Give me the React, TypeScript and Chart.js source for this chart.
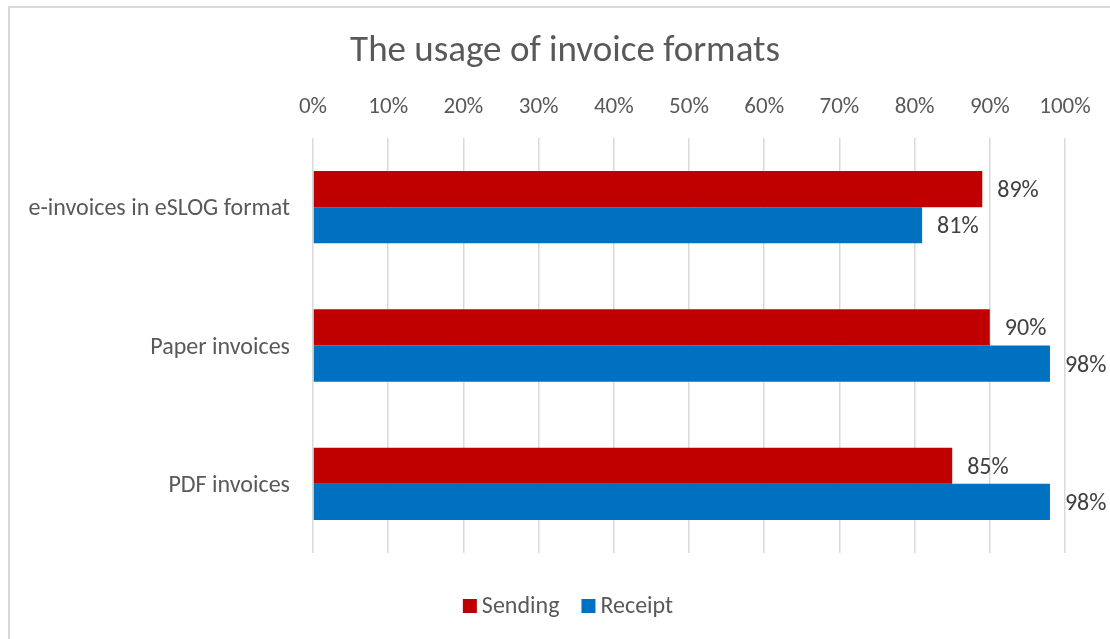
import React, { useEffect, useRef } from "react";
import { Chart, registerables } from "chart.js";

Chart.register(...registerables);

const TITLE = "The usage of invoice formats";
const categories = ["e-invoices in eSLOG format", "Paper invoices", "PDF invoices"];
const seriesNames = ["Sending", "Receipt"];
const sending = [89, 90, 85];
const receipt = [81, 98, 98];
const seriesColors = ["#C00000", "#0070C0"];
const FONT = "Carlito, Lato, sans-serif";

const dataLabels = {
  id: "dataLabels",
  afterDatasetsDraw(chart: any) {
    const ctx = chart.ctx;
    ctx.save();
    ctx.font = `24px ${FONT}`;
    ctx.fillStyle = "#404040";
    ctx.textAlign = "left";
    ctx.textBaseline = "middle";
    chart.data.datasets.forEach((ds: any, i: number) => {
      const meta = chart.getDatasetMeta(i);
      meta.data.forEach((bar: any, j: number) => {
        ctx.fillText(`${ds.data[j]}%`, bar.x + 15, bar.y + 2);
      });
    });
    ctx.restore();
  },
};

const chartTitle = {
  id: "chartTitle",
  afterDraw(chart: any) {
    const ctx = chart.ctx;
    ctx.save();
    ctx.font = `37px ${FONT}`;
    ctx.fillStyle = "#595959";
    ctx.textAlign = "center";
    ctx.textBaseline = "middle";
    ctx.fillText(TITLE, 565, 52);
    ctx.restore();
  },
};

const bottomLegend = {
  id: "bottomLegend",
  afterDraw(chart: any) {
    const ctx = chart.ctx;
    ctx.save();
    ctx.font = `24px ${FONT}`;
    const box = 14;
    const gapBoxText = 5;
    const gapItems = 22;
    const items = chart.data.datasets.map((ds: any) => ({
      text: ds.label,
      color: ds.backgroundColor,
      w: box + gapBoxText + ctx.measureText(ds.label).width,
    }));
    const total = items.reduce((s: number, it: any) => s + it.w, 0) + gapItems * (items.length - 1);
    let x = 568 - total / 2;
    const y = 606;
    ctx.textBaseline = "middle";
    ctx.textAlign = "left";
    items.forEach((it: any) => {
      ctx.fillStyle = it.color;
      ctx.fillRect(x, y - box / 2, box, box);
      ctx.fillStyle = "#595959";
      ctx.fillText(it.text, x + box + gapBoxText, y + 1);
      x += it.w + gapItems;
    });
    ctx.restore();
  },
};

export default function App() {
  const ref = useRef<HTMLCanvasElement>(null);
  useEffect(() => {
    if (!ref.current) return;
    const chart = new Chart(ref.current, {
      type: "bar",
      data: {
        labels: categories,
        datasets: [
          { label: seriesNames[0], data: sending, backgroundColor: seriesColors[0] },
          { label: seriesNames[1], data: receipt, backgroundColor: seriesColors[1] },
        ],
      },
      options: {
        indexAxis: "y",
        responsive: false,
        animation: false,
        maintainAspectRatio: false,
        layout: { padding: { left: 0, right: 45, top: 0, bottom: 86 } },
        datasets: { bar: { categoryPercentage: 0.523, barPercentage: 1 } },
        plugins: {
          legend: { display: false },
          tooltip: { enabled: false },
          title: { display: false },
        },
        scales: {
          x: {
            position: "top",
            min: 0,
            max: 100,
            ticks: {
              stepSize: 10,
              callback: (v: any) => `${v}%`,
              color: "#595959",
              font: { family: FONT, size: 23 },
              padding: 17,
              maxRotation: 0,
            },
            grid: { color: "#d9d9d9", lineWidth: 1.5, drawTicks: false },
            border: { display: false },
            afterFit: (s: any) => {
              s.height = 138;
            },
          },
          y: {
            ticks: {
              color: "#595959",
              font: { family: FONT, size: 24 },
              padding: 23,
              labelOffset: 2,
            },
            grid: { display: false, drawTicks: false },
            border: { display: false },
            afterFit: (s: any) => {
              s.width = 313;
            },
          },
        },
      },
      plugins: [dataLabels, chartTitle, bottomLegend],
    });
    return () => chart.destroy();
  }, []);
  return (
    <div style={{ position: "absolute", left: 0, top: 0, width: 1110, height: 639, background: "#fff", overflow: "hidden" }}>
      <div
        style={{
          position: "absolute",
          left: 8,
          top: 6,
          width: 1200,
          height: 700,
          borderLeft: "2px solid #d9d9d9",
          borderTop: "2px solid #d9d9d9",
        }}
      />
      <canvas ref={ref} width={1110} height={639} style={{ position: "absolute", left: 0, top: 0, width: 1110, height: 639 }} />
    </div>
  );
}
